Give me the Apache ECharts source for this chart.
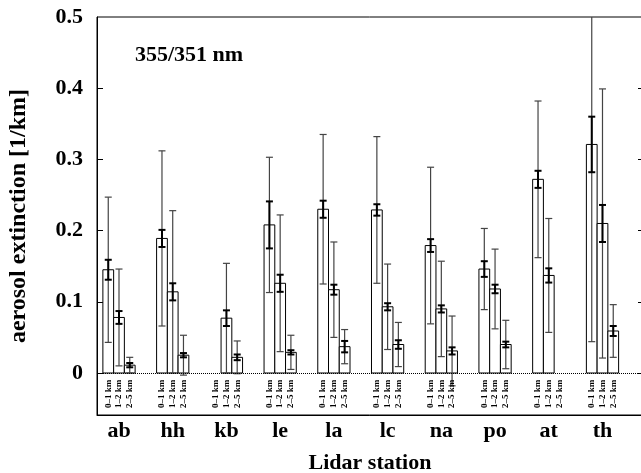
<!DOCTYPE html>
<html>
<head>
<meta charset="utf-8">
<script src="https://cdn.jsdelivr.net/npm/echarts@6/dist/echarts.min.js"></script>
<style>
  html, body { margin: 0; padding: 0; background: #fff; }
  #chart { width: 641px; height: 473px; }
</style>
</head>
<body>
<div id="chart"></div>
<script>
// stations and layers
var stations = ['ab', 'hh', 'kb', 'le', 'la', 'lc', 'na', 'po', 'at', 'th'];
var layers = ['0–1 km', '1–2 km', '2–5 km'];

// mean extinction per layer (null = no bar)
var ext01 = [0.145, 0.189, null, 0.208, 0.230, 0.229, 0.179, 0.146, 0.272, 0.321];
var ext12 = [0.078, 0.114, 0.077, 0.126, 0.117, 0.093, 0.090, 0.118, 0.137, 0.210];
var ext25 = [0.011, 0.025, 0.022, 0.029, 0.037, 0.040, 0.031, 0.040, null, 0.059];

// small (black) error
var err01 = [0.014, 0.012, null, 0.033, 0.012, 0.008, 0.009, 0.011, 0.012, 0.039];
var err12 = [0.009, 0.012, 0.011, 0.012, 0.007, 0.005, 0.005, 0.006, 0.010, 0.026];
var err25 = [0.003, 0.003, 0.004, 0.003, 0.008, 0.006, 0.005, 0.004, null, 0.007];

// large (grey) error / spread
var sd01 = [0.102, 0.123, null, 0.095, 0.105, 0.103, 0.110, 0.057, 0.110, 0.277];
var sd12 = [0.068, 0.114, 0.077, 0.096, 0.067, 0.060, 0.067, 0.056, 0.080, 0.189];
var sd25 = [0.011, 0.028, 0.023, 0.024, 0.024, 0.031, 0.049, 0.034, null, 0.037];

var yTicks = [0, 0.1, 0.2, 0.3, 0.4];
var yLabels = [0, 0.1, 0.2, 0.3, 0.4, 0.5];

var serif = "'Liberation Serif', 'Times New Roman', serif";
var barW = 0.2; // in station units

// build data rows [station, layer, value, err, sd]
var extAll = [ext01, ext12, ext25];
var errAll = [err01, err12, err25];
var sdAll = [sd01, sd12, sd25];
var barData = [];
var labelData = [];
for (var i = 0; i < stations.length; i++) {
    for (var l = 0; l < layers.length; l++) {
        labelData.push([i, l]);
        if (extAll[l][i] != null) {
            barData.push([i, l, extAll[l][i], errAll[l][i], sdAll[l][i]]);
        }
    }
}

function errBar(api, xc, lo, hi, cap, style) {
    var a = api.coord([xc, lo]);
    var b = api.coord([xc, hi]);
    return [
        { type: 'line', shape: { x1: a[0], y1: a[1], x2: b[0], y2: b[1] }, style: style },
        { type: 'line', shape: { x1: a[0] - cap, y1: a[1], x2: a[0] + cap, y2: a[1] }, style: style },
        { type: 'line', shape: { x1: b[0] - cap, y1: b[1], x2: b[0] + cap, y2: b[1] }, style: style }
    ];
}

function renderBar(params, api) {
    var si = api.value(0), li = api.value(1);
    var v = api.value(2), e = api.value(3), s = api.value(4);
    var xc = si + (li - 1) * barW;
    var p0 = api.coord([xc - barW / 2, 0]);
    var p1 = api.coord([xc + barW / 2, v]);
    var children = [{
        type: 'rect',
        shape: { x: p0[0], y: p1[1], width: p1[0] - p0[0], height: p0[1] - p1[1] },
        style: { fill: '#fff', stroke: '#000', lineWidth: 1 }
    }];
    var grey = { stroke: '#444', lineWidth: 1.2 };
    var black = { stroke: '#000', lineWidth: 2 };
    children = children.concat(errBar(api, xc, v - s, v + s, 3.5, grey));
    children = children.concat(errBar(api, xc, v - e, v + e, 3.5, black));
    return { type: 'group', children: children };
}

function renderLabel(params, api) {
    var si = api.value(0), li = api.value(1);
    var xc = si + (li - 1) * barW;
    var p = api.coord([xc, 0]);
    return {
        type: 'text',
        x: p[0], y: p[1] + 21,
        rotation: Math.PI / 2,
        style: {
            text: layers[li], align: 'center', verticalAlign: 'middle',
            font: 'bold 9px ' + serif, fill: '#000'
        }
    };
}

var chart = echarts.init(document.getElementById('chart'));
chart.setOption({
    animation: false,
    title: {
        text: '355/351 nm', left: 135, top: 44, padding: 0,
        textStyle: { fontFamily: serif, fontWeight: 'bold', fontSize: 22, color: '#000' }
    },
    grid: {
        left: 97, top: 17, width: 546, height: 398,
        outerBoundsMode: 'none',
        show: true, borderColor: '#000', borderWidth: 1
    },
    xAxis: {
        type: 'value', min: -0.4095, max: 9.754,
        name: 'Lidar station', nameLocation: 'middle', nameGap: 37,
        nameTextStyle: { fontFamily: serif, fontWeight: 'bold', fontSize: 22, color: '#000' },
        axisLine: { show: true, onZero: false, lineStyle: { color: '#000' } },
        axisTick: { show: false },
        splitLine: { show: false },
        axisLabel: {
            customValues: stations.map(function (s, i) { return i; }),
            formatter: function (v) { return stations[Math.round(v)]; },
            margin: 5, fontFamily: serif, fontWeight: 'bold', fontSize: 22, color: '#000'
        }
    },
    yAxis: [{
        type: 'value', min: -0.059, max: 0.5, position: 'left',
        name: 'aerosol extinction [1/km]', nameLocation: 'middle', nameGap: 66,
        nameTextStyle: { fontFamily: serif, fontWeight: 'bold', fontSize: 24, color: '#000' },
        axisLine: { show: true, onZero: false, lineStyle: { color: '#000' } },
        axisTick: { show: true, inside: true, length: 6, customValues: yTicks, lineStyle: { color: '#000' } },
        splitLine: { show: false },
        axisLabel: {
            customValues: yLabels, margin: 14,
            fontFamily: serif, fontWeight: 'bold', fontSize: 22, color: '#000'
        }
    }, {
        type: 'value', min: -0.059, max: 0.5, position: 'right',
        axisLine: { show: true, onZero: false, lineStyle: { color: '#000' } },
        axisTick: { show: true, inside: true, length: 5, customValues: yTicks, lineStyle: { color: '#000' } },
        splitLine: { show: false },
        axisLabel: { show: false }
    }],
    series: [{
        type: 'custom',
        renderItem: renderBar,
        data: barData,
        clip: true,
        markLine: {
            silent: true, symbol: ['none', 'none'],
            label: { show: false },
            lineStyle: { type: 'dotted', color: '#000', width: 1 },
            data: [{ yAxis: 0 }]
        }
    }, {
        type: 'custom',
        renderItem: renderLabel,
        data: labelData,
        clip: false
    }]
});
</script>
</body>
</html>
